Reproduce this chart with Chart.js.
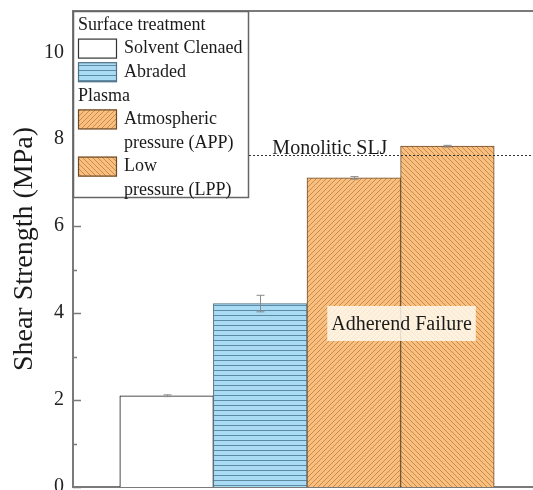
<!DOCTYPE html>
<html>
<head>
<meta charset="utf-8">
<script src="https://cdn.jsdelivr.net/npm/chart.js@4/dist/chart.umd.min.js"></script>
<style>
  html, body { margin: 0; padding: 0; background: #fff; overflow: hidden; width: 533px; height: 490px; }
  #wrap { position: relative; width: 541px; height: 500px; }
</style>
</head>
<body>
<div id="wrap"><canvas id="chart" width="541" height="500"></canvas></div>
<script>
// Shear strength of single-lap joints for each surface treatment
const categories = ['Solvent Clenaed', 'Abraded', 'Atmospheric pressure (APP)', 'Low pressure (LPP)'];
const strength = [2.1, 4.22, 7.11, 7.84];          // MPa
const strengthErr = [0.02, 0.19, 0.03, 0.02];       // MPa
const monoliticSLJ = 7.64;                           // MPa, reference line
const yTicks = [0, 2, 4, 6, 8, 10];
const yMinorTicks = [1, 3, 5, 7, 9];

const SERIF = "'Liberation Serif', 'Times New Roman', serif";
const AXIS_GREY = '#7a7a7a';

function makePattern(bg, fg, kind) {
  const s = 5;
  const c = document.createElement('canvas');
  c.width = s; c.height = s;
  const g = c.getContext('2d');
  g.fillStyle = bg;
  g.fillRect(0, 0, s, s);
  g.strokeStyle = fg;
  g.lineWidth = 1;
  g.beginPath();
  if (kind === 'h') {
    g.moveTo(0, 0.5); g.lineTo(s, 0.5);
  } else if (kind === '/') {
    g.moveTo(-1, s + 1); g.lineTo(s + 1, -1);
    g.moveTo(-1, 1); g.lineTo(1, -1);
    g.moveTo(s - 1, s + 1); g.lineTo(s + 1, s - 1);
  } else {
    g.moveTo(-1, -1); g.lineTo(s + 1, s + 1);
    g.moveTo(s - 1, -1); g.lineTo(s + 1, 1);
    g.moveTo(-1, s - 1); g.lineTo(1, s + 1);
  }
  g.stroke();
  return g.createPattern(c, 'repeat');
}

const fills = [
  '#ffffff',
  makePattern('#a9dcf4', '#5e8aa3', 'h'),
  makePattern('#f8c080', '#cf8947', '/'),
  makePattern('#f8c080', '#cf8947', '\\')
];
const borders = ['#111111', '#4f6f84', '#6b4b2d', '#6b4b2d'];

// Legend entries: group headings and swatches with (possibly two-line) labels
const legendRows = [
  { heading: 'Surface treatment' },
  { idx: 0, lines: ['Solvent Clenaed'] },
  { idx: 1, lines: ['Abraded'] },
  { heading: 'Plasma' },
  { idx: 2, lines: ['Atmospheric', 'pressure (APP)'] },
  { idx: 3, lines: ['Low', 'pressure (LPP)'] }
];

const overlay = {
  id: 'overlay',
  afterDatasetsDraw(chart) {
    const { ctx, chartArea: a, scales: { x, y } } = chart;
    ctx.save();

    // inward ticks on the value axis
    ctx.strokeStyle = AXIS_GREY;
    ctx.lineWidth = 1.5;
    ctx.beginPath();
    yTicks.forEach(v => { const py = Math.round(y.getPixelForValue(v)) + 0.5; ctx.moveTo(a.left, py); ctx.lineTo(a.left + 8, py); });
    yMinorTicks.forEach(v => { const py = Math.round(y.getPixelForValue(v)) + 0.5; ctx.moveTo(a.left, py); ctx.lineTo(a.left + 4, py); });
    ctx.stroke();

    // top frame line
    ctx.lineWidth = 2;
    ctx.beginPath();
    ctx.moveTo(a.left, a.top);
    ctx.lineTo(a.right, a.top);
    ctx.stroke();

    // error bars
    ctx.strokeStyle = '#8a8a8a';
    ctx.lineWidth = 1;
    strength.forEach((v, i) => {
      const px = Math.round(x.getPixelForValue(i + 1)) + 0.5;
      const hi = y.getPixelForValue(v + strengthErr[i]);
      const lo = y.getPixelForValue(v - strengthErr[i]);
      ctx.beginPath();
      ctx.moveTo(px, hi); ctx.lineTo(px, lo);
      ctx.moveTo(px - 4, hi); ctx.lineTo(px + 4, hi);
      ctx.moveTo(px - 4, lo); ctx.lineTo(px + 4, lo);
      ctx.stroke();
    });

    // monolithic joint reference line
    const my = Math.round(y.getPixelForValue(monoliticSLJ)) + 0.5;
    ctx.strokeStyle = '#333';
    ctx.lineWidth = 1;
    ctx.setLineDash([2, 2]);
    ctx.beginPath();
    ctx.moveTo(a.left, my);
    ctx.lineTo(a.right, my);
    ctx.stroke();
    ctx.setLineDash([]);
    ctx.fillStyle = '#1a1a1a';
    ctx.font = '20px ' + SERIF;
    ctx.textAlign = 'left';
    ctx.textBaseline = 'alphabetic';
    ctx.fillText('Monolitic SLJ', x.getPixelForValue(2.13), my - 2);

    // failure mode annotation
    const fx = x.getPixelForValue(3.51);
    const fy = y.getPixelForValue(3.75);
    ctx.font = '20px ' + SERIF;
    const tw = ctx.measureText('Adherend Failure').width;
    ctx.fillStyle = 'rgba(255, 251, 242, 0.82)';
    ctx.fillRect(fx - tw / 2 - 4, fy - 18, tw + 8, 35);
    ctx.fillStyle = '#1a1a1a';
    ctx.textAlign = 'center';
    ctx.textBaseline = 'middle';
    ctx.fillText('Adherend Failure', fx, fy + 1);

    // legend
    const lx = a.left, ly = a.top, lw = 175, lh = 186;
    ctx.fillStyle = '#ffffff';
    ctx.fillRect(lx, ly, lw, lh);
    ctx.strokeStyle = '#666';
    ctx.lineWidth = 1.5;
    ctx.strokeRect(lx + 0.5, ly + 0.5, lw, lh);
    ctx.font = '18px ' + SERIF;
    ctx.textAlign = 'left';
    ctx.textBaseline = 'middle';
    const step = 23.6;
    let row = 0;
    legendRows.forEach(r => {
      const cy = ly + 14 + row * step;
      if (r.heading) {
        ctx.fillStyle = '#1a1a1a';
        ctx.fillText(r.heading, lx + 5, cy);
        row += 1;
      } else {
        ctx.fillStyle = fills[r.idx];
        ctx.fillRect(lx + 5, cy - 10, 39, 20);
        ctx.strokeStyle = r.idx === 0 ? '#333' : borders[r.idx];
        ctx.lineWidth = 1.2;
        ctx.strokeRect(lx + 5.5, cy - 9.5, 38, 19);
        ctx.fillStyle = '#1a1a1a';
        r.lines.forEach((t, k) => ctx.fillText(t, lx + 51, cy + k * step));
        row += r.lines.length;
      }
    });

    ctx.restore();
  }
};

new Chart(document.getElementById('chart'), {
  type: 'bar',
  data: {
    labels: ['', ...categories, ''],
    datasets: [{
      data: [null, ...strength, null],
      backgroundColor: ['#fff', ...fills, '#fff'],
      borderColor: ['#000', ...borders, '#000'],
      borderWidth: 1,
      barPercentage: 1,
      categoryPercentage: 1
    }]
  },
  options: {
    responsive: false,
    animation: false,
    devicePixelRatio: 1,
    layout: { padding: { top: 11, left: 0, right: 0, bottom: 0 } },
    plugins: { legend: { display: false }, tooltip: { enabled: false } },
    scales: {
      x: {
        type: 'category',
        offset: false,
        grid: { display: false, drawTicks: false },
        ticks: { display: false },
        border: { display: true, color: AXIS_GREY, width: 2 },
        afterFit(scale) {
          scale.height = 13;
          scale.paddingLeft = 0; scale.paddingRight = 0;
          scale.paddingTop = 0; scale.paddingBottom = 0;
        }
      },
      y: {
        min: 0,
        max: 10.95,
        grid: { display: false, drawTicks: false },
        border: { display: true, color: AXIS_GREY, width: 2 },
        ticks: {
          padding: 9,
          color: '#222',
          font: { family: SERIF, size: 20 }
        },
        afterBuildTicks(scale) { scale.ticks = yTicks.map(v => ({ value: v })); },
        title: {
          display: true,
          text: 'Shear Strength (MPa)',
          color: '#1a1a1a',
          font: { family: SERIF, size: 28 },
          padding: { top: 8, bottom: 0 }
        },
        afterFit(scale) {
          scale.width = 73;
          scale.paddingTop = 0; scale.paddingBottom = 0;
          scale.paddingLeft = 0; scale.paddingRight = 0;
        }
      }
    }
  },
  plugins: [overlay]
});
</script>
</body>
</html>
